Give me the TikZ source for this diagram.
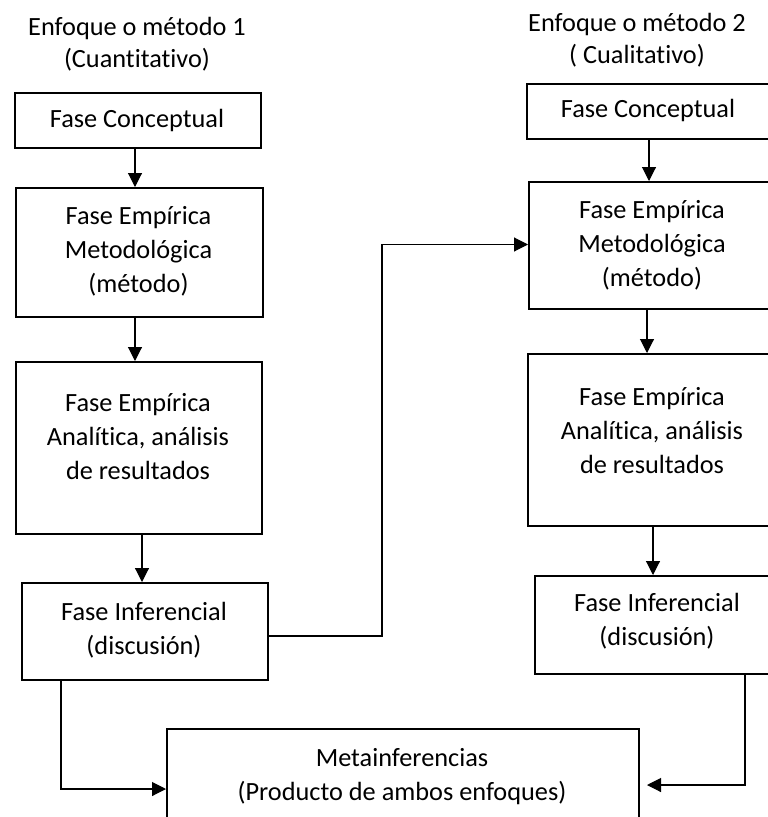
\documentclass[tikz,border=0pt]{standalone}
\usepackage{fontspec}
\setmainfont{Carlito}[Ligatures=NoCommon]
\usetikzlibrary{arrows.meta}
\begin{document}
\begin{tikzpicture}[x=1pt,y=-1pt,
  box/.style={draw=black, line width=2pt, rectangle, inner sep=0pt, anchor=north west},
  txt/.style={align=center, inner sep=0pt, font=\fontsize{26.3}{34}\selectfont},
  ttl/.style={align=center, inner sep=0pt, font=\fontsize{26.3}{32}\selectfont},
  conn/.style={draw=black, line width=1.1pt},
  arr/.style={conn, -{Triangle[length=14pt,width=14pt]}}]
\useasboundingbox (0,0) rectangle (768,817);
\fill[white] (0,0) rectangle (768,817);
\clip (0,0) rectangle (768,817);

% titles
\node[ttl] (T1) at (137,44.5) {Enfoque o método 1\\(Cuantitativo)};
\node[ttl] (T2) at (637,40) {Enfoque o método 2\\( Cualitativo)};

% left column boxes
\node[box, minimum width=246pt, minimum height=55pt]  (LC) at (14,92) {};
\node[box, minimum width=247pt, minimum height=129pt] (LM) at (15,187) {};
\node[box, minimum width=246pt, minimum height=172pt] (LA) at (15,361) {};
\node[box, minimum width=246pt, minimum height=97pt]  (LI) at (21,582) {};

% right column boxes
\node[box, minimum width=244pt, minimum height=55pt]  (RC) at (526,83) {};
\node[box, minimum width=248pt, minimum height=127pt] (RM) at (528,181) {};
\node[box, minimum width=250pt, minimum height=172pt] (RA) at (527,353) {};
\node[box, minimum width=246pt, minimum height=98pt]  (RI) at (534,575) {};

% bottom box
\node[box, minimum width=472pt, minimum height=102pt] (B) at (166,728) {};

% texts
\node[txt] (tLC) at (137,120) {Fase Conceptual};
\node[txt] (tLM) at (138.5,251) {Fase Empírica\\Metodológica\\(método)};
\node[txt] (tLA) at (138,437) {Fase Empírica\\Analítica, análisis\\de resultados};
\node[txt] (tLI) at (144,630) {Fase Inferencial\\(discusión)};
\node[txt] (tRC) at (648,110) {Fase Conceptual};
\node[txt] (tRM) at (652,245) {Fase Empírica\\Metodológica\\(método)};
\node[txt] (tRA) at (652,431) {Fase Empírica\\Analítica, análisis\\de resultados};
\node[txt] (tRI) at (657,621) {Fase Inferencial\\(discusión)};
\node[txt] (tB) at (402,777) {Metainferencias\\(Producto de ambos enfoques)};

% x positions of vertical arrows
\coordinate (xa1) at (135,0);
\coordinate (xa2) at (135,0);
\coordinate (xa3) at (142,0);
\coordinate (xb1) at (649,0);
\coordinate (xb2) at (647,0);
\coordinate (xb3) at (653,0);

\draw[arr] (LC.south -| xa1) -- (LM.north -| xa1);
\draw[arr] (LM.south -| xa2) -- (LA.north -| xa2);
\draw[arr] (LA.south -| xa3) -- (LI.north -| xa3);
\draw[arr] (RC.south -| xb1) -- (RM.north -| xb1);
\draw[arr] (RM.south -| xb2) -- (RA.north -| xb2);
\draw[arr] (RA.south -| xb3) -- (RI.north -| xb3);

% cross connector
\coordinate (j1) at (382,636);
\coordinate (j2) at (382,244.5);
\draw[arr] (LI.east |- j1) -- (j1) -- (j2) -- (RM.west |- j2);

% to bottom box
\coordinate (j3) at (61,789);
\draw[arr] (j3 |- LI.south) -- (j3) -- (B.west |- j3);
\coordinate (j4) at (745,785);
\coordinate (j5) at (647,785);
\draw[arr] (j4 |- RI.south) -- (j4) -- (j5);
\end{tikzpicture}
\end{document}
